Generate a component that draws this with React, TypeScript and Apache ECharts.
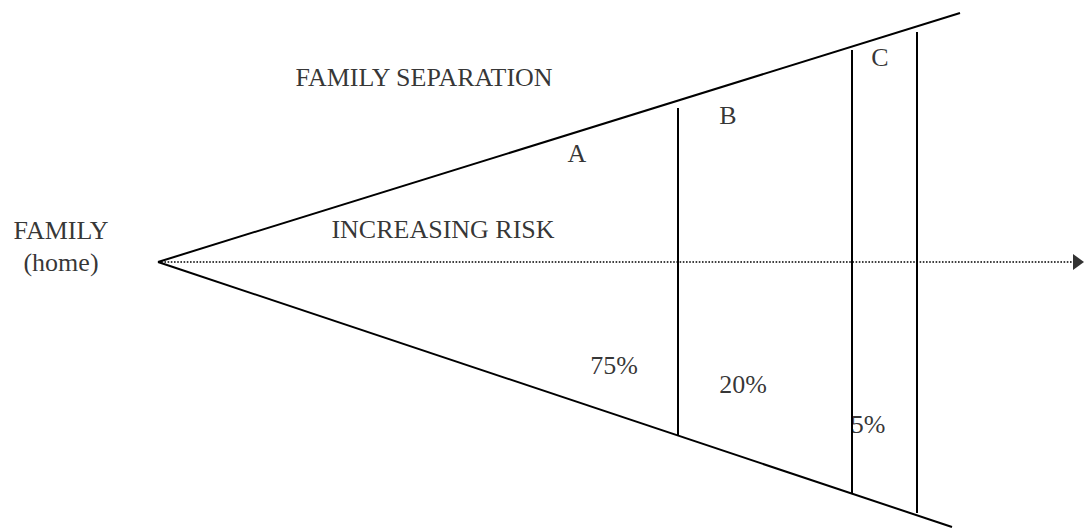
import React, { useEffect, useRef } from "react";
import * as echarts from "echarts";

// Diagram coordinates (x: distance from home, y: vertical position, top = 0)
const apex: [number, number] = [158, 262];
const upperEdgeEnd: [number, number] = [960, 13];
const lowerEdgeEnd: [number, number] = [952, 527];
const arrowEnd: [number, number] = [1073, 262];
const arrowTip: [number, number] = [1078.5, 262];

// Divider lines between zones: [x, top, bottom]
const dividers: [number, number, number][] = [
  [678, 108, 436],
  [852, 50, 494],
  [917, 32, 513],
];

// Text labels: [text, x, y]
const labels: [string, number, number][] = [
  ["FAMILY", 61, 230],
  ["(home)", 61, 262],
  ["FAMILY SEPARATION", 424, 77],
  ["INCREASING RISK", 443, 229],
  ["A", 577, 153],
  ["B", 728, 115],
  ["C", 880, 57],
  ["75%", 614, 365],
  ["20%", 743, 384],
  ["5%", 868, 424],
];

const FONT = "'Times New Roman', 'Liberation Serif', 'DejaVu Serif', serif";

export default function App() {
  const ref = useRef<HTMLDivElement>(null);

  useEffect(() => {
    if (!ref.current) return;
    const chart = echarts.init(ref.current, undefined, { renderer: "svg" });

    const solid = { color: "#000", width: 2, type: "solid" as const };

    const series: any[] = [
      {
        type: "line",
        data: [apex, upperEdgeEnd],
        symbol: "none",
        lineStyle: solid,
        clip: false,
        silent: true,
      },
      {
        type: "line",
        data: [apex, lowerEdgeEnd],
        symbol: "none",
        lineStyle: solid,
        clip: false,
        silent: true,
      },
      ...dividers.map(([x, top, bottom]) => ({
        type: "line",
        data: [
          [x, top],
          [x, bottom],
        ],
        symbol: "none",
        lineStyle: solid,
        clip: false,
        silent: true,
      })),
      {
        type: "line",
        data: [apex, arrowEnd],
        symbol: "none",
        lineStyle: { color: "#000", width: 1.6, type: [1.6, 1.6] },
        clip: false,
        silent: true,
      },
      {
        type: "scatter",
        data: [arrowTip],
        symbol: "path://M0,0 L10,8 L0,16 Z",
        symbolSize: [11, 16],
        itemStyle: { color: "#000" },
        clip: false,
        silent: true,
      },
      {
        type: "scatter",
        data: labels.map(([t, x, y]) => ({ name: t, value: [x, y] })),
        symbolSize: 0,
        clip: false,
        silent: true,
        label: {
          show: true,
          position: "inside",
          formatter: "{b}",
          color: "#000",
          fontFamily: FONT,
          fontSize: 26,
          align: "center",
          verticalAlign: "middle",
        },
      },
    ];

    chart.setOption({
      animation: false,
      backgroundColor: "#fff",
      grid: { left: 0, right: 0, top: 0, bottom: 0 },
      xAxis: { type: "value", min: 0, max: 1084, show: false },
      yAxis: { type: "value", min: 0, max: 528, inverse: true, show: false },
      series,
    });

    return () => chart.dispose();
  }, []);

  return (
    <div
      ref={ref}
      style={{ position: "fixed", left: 0, top: 0, width: 1084, height: 528 }}
    />
  );
}
